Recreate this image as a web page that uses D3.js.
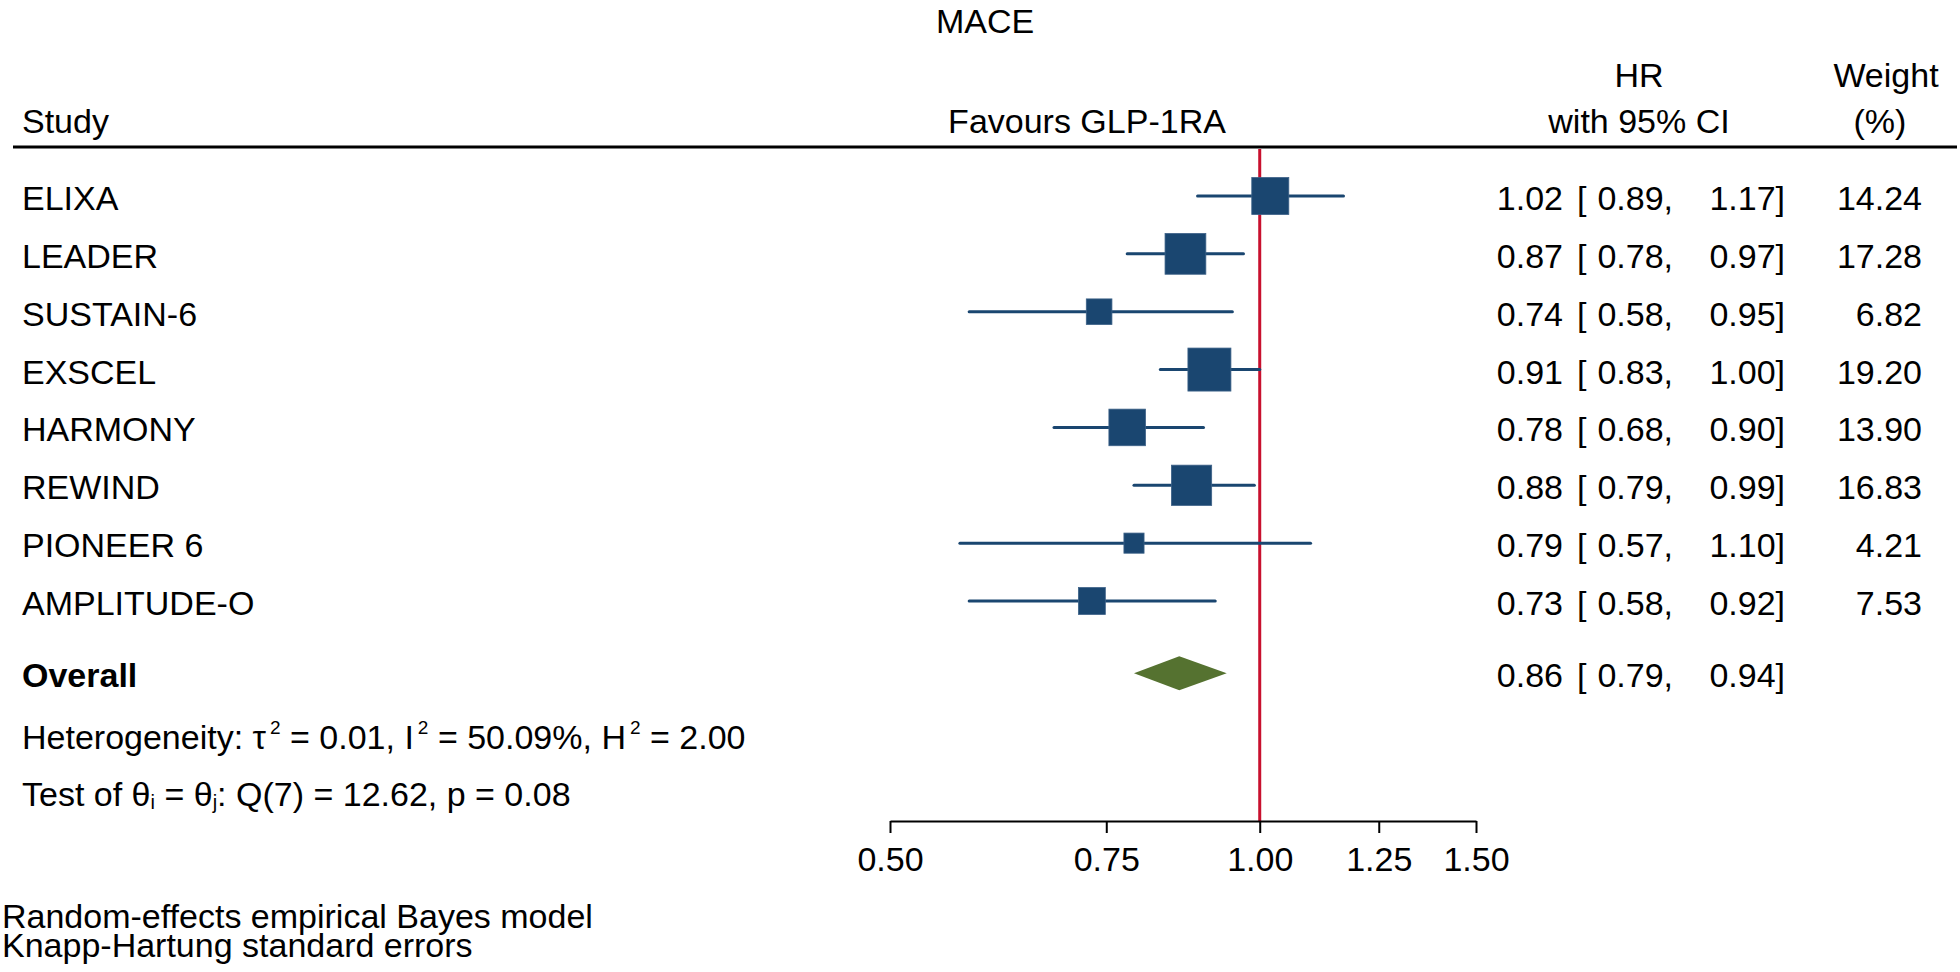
<!DOCTYPE html>
<html>
<head>
<meta charset="utf-8">
<script src="https://cdn.jsdelivr.net/npm/d3@7"></script>
<style>
  html, body { margin: 0; padding: 0; background: #fff; }
  svg text { font-family: "Liberation Sans", Arial, Helvetica, sans-serif; fill: #000; }
</style>
</head>
<body>
<svg id="chart" width="1960" height="972"></svg>
<script>
// ---- data ----
const studies = ["ELIXA", "LEADER", "SUSTAIN-6", "EXSCEL", "HARMONY", "REWIND", "PIONEER 6", "AMPLITUDE-O"];
const hr      = [1.02, 0.87, 0.74, 0.91, 0.78, 0.88, 0.79, 0.73];
const lower   = [0.89, 0.78, 0.58, 0.83, 0.68, 0.79, 0.57, 0.58];
const upper   = [1.17, 0.97, 0.95, 1.00, 0.90, 0.99, 1.10, 0.92];
const weights = [14.24, 17.28, 6.82, 19.20, 13.90, 16.83, 4.21, 7.53];
const overallLabel = "Overall";
const overall = [0.86, 0.79, 0.94]; // HR, lower, upper
const xTicks = [0.50, 0.75, 1.00, 1.25, 1.50];
const title = "MACE";
const favoursLabel = "Favours GLP-1RA";
const footnotes = ["Random-effects empirical Bayes model", "Knapp-Hartung standard errors"];

// ---- layout ----
const FS = 34;
const svg = d3.select("#chart");
const x = d3.scaleLog().domain([0.5, 1.5]).range([890, 1476]);
const y = d3.scaleLinear().domain([0, 7]).range([196, 601]);
const yOverall = y(8.25);
const size = d3.scaleSqrt().domain([0, d3.max(weights)]).range([0, 43]);
const f2 = d3.format(".2f");
const blue = "#1a4670";
const green = "#557230";
const red = "#c8102e";
const baseOff = 14;

const col = { hr: 1563, br: 1577, lo: 1673, up: 1785, w: 1922 };

// title & header
svg.append("text").attr("x", 985).attr("y", 33).attr("text-anchor", "middle")
  .attr("font-size", FS).text(title);
svg.append("text").attr("x", 22).attr("y", 133).attr("font-size", FS).text("Study");
svg.append("text").attr("x", 1087).attr("y", 133).attr("text-anchor", "middle")
  .attr("font-size", FS).text(favoursLabel);
svg.append("text").attr("x", 1639).attr("y", 87).attr("text-anchor", "middle")
  .attr("font-size", FS).text("HR");
svg.append("text").attr("x", 1639).attr("y", 133).attr("text-anchor", "middle")
  .attr("font-size", FS).text("with 95% CI");
svg.append("text").attr("x", 1886).attr("y", 87).attr("text-anchor", "middle")
  .attr("font-size", FS).text("Weight");
svg.append("text").attr("x", 1880).attr("y", 133).attr("text-anchor", "middle")
  .attr("font-size", FS).text("(%)");
svg.append("line").attr("x1", 13).attr("x2", 1957).attr("y1", 147).attr("y2", 147)
  .attr("stroke", "#000").attr("stroke-width", 3);

// reference line at 1
svg.append("line").attr("x1", x(1)).attr("x2", x(1)).attr("y1", 149).attr("y2", 821)
  .attr("stroke", red).attr("stroke-width", 3);

// rows
const rows = studies.map((s, i) => ({ s, hr: hr[i], lo: lower[i], up: upper[i], w: weights[i], i }));

const g = svg.append("g");
g.selectAll("line.ci").data(rows).join("line").attr("class", "ci")
  .attr("x1", d => x(d.lo)).attr("x2", d => x(d.up))
  .attr("y1", d => y(d.i)).attr("y2", d => y(d.i))
  .attr("stroke", blue).attr("stroke-width", 3).attr("stroke-linecap", "round");
g.selectAll("rect.sq").data(rows).join("rect").attr("class", "sq")
  .attr("x", d => x(d.hr) - size(d.w) / 2).attr("y", d => y(d.i) - size(d.w) / 2)
  .attr("width", d => size(d.w)).attr("height", d => size(d.w))
  .attr("fill", blue).attr("stroke", "#3d6288").attr("stroke-width", 0.8);

// text columns
const t = svg.append("g").attr("font-size", FS);
t.selectAll("text.lab").data(rows).join("text").attr("class", "lab")
  .attr("x", 22).attr("y", d => y(d.i) + baseOff).text(d => d.s);
function numCols(sel, get) {
  sel.append("text").attr("x", col.hr).attr("text-anchor", "end").text(d => f2(get(d)[0]));
  sel.append("text").attr("x", col.br).text("[");
  sel.append("text").attr("x", col.lo).attr("text-anchor", "end").text(d => f2(get(d)[1]) + ",");
  sel.append("text").attr("x", col.up).attr("text-anchor", "end").text(d => f2(get(d)[2]) + "]");
}
const rg = t.selectAll("g.row").data(rows).join("g").attr("class", "row")
  .attr("transform", d => `translate(0,${y(d.i) + baseOff})`);
numCols(rg, d => [d.hr, d.lo, d.up]);
rg.append("text").attr("x", col.w).attr("text-anchor", "end").text(d => f2(d.w));

// overall
const og = t.append("g").datum(overall).attr("transform", `translate(0,${yOverall + baseOff})`);
og.append("text").attr("x", 22).attr("font-weight", "bold").text(overallLabel);
numCols(og, d => d);
const dh = 17;
svg.append("path")
  .attr("d", `M${x(overall[1])},${yOverall} L${x(overall[0])},${yOverall - dh} L${x(overall[2])},${yOverall} L${x(overall[0])},${yOverall + dh} Z`)
  .attr("fill", green);

// heterogeneity stats
const het = svg.append("text").attr("x", 22).attr("y", 749).attr("font-size", FS);
het.append("tspan").text("Heterogeneity: τ");
het.append("tspan").attr("font-size", 19).attr("dx", 4).attr("dy", -15).text("2");
het.append("tspan").attr("dy", 15).text(" = 0.01, I");
het.append("tspan").attr("font-size", 19).attr("dx", 4).attr("dy", -15).text("2");
het.append("tspan").attr("dy", 15).text(" = 50.09%, H");
het.append("tspan").attr("font-size", 19).attr("dx", 4).attr("dy", -15).text("2");
het.append("tspan").attr("dy", 15).text(" = 2.00");

const tst = svg.append("text").attr("x", 22).attr("y", 806).attr("font-size", FS);
tst.append("tspan").text("Test of θ");
tst.append("tspan").attr("font-size", 20).attr("dy", 3).text("i");
tst.append("tspan").attr("dy", -3).text(" = θ");
tst.append("tspan").attr("font-size", 20).attr("dy", 3).text("j");
tst.append("tspan").attr("dy", -3).text(": Q(7) = 12.62, p = 0.08");

// axis
const axis = d3.axisBottom(x).tickValues(xTicks).tickFormat(f2).tickSize(12).tickPadding(14).tickSizeOuter(0);
const ax = svg.append("g").attr("transform", "translate(0,821)").call(axis);
ax.select(".domain").attr("stroke", "#000").attr("stroke-width", 2);
ax.selectAll(".tick line").attr("stroke", "#000").attr("stroke-width", 2);
ax.selectAll(".tick text").attr("font-size", FS).attr("font-family", "Liberation Sans, Arial, sans-serif").attr("fill", "#000");

// footnotes (one multi-line text block)
const foot = svg.append("text").attr("x", 2).attr("y", 928).attr("font-size", FS);
foot.selectAll("tspan").data(footnotes).join("tspan")
  .attr("x", 2).attr("dy", (d, i) => i === 0 ? 0 : 29).text(d => d);
</script>
</body>
</html>
